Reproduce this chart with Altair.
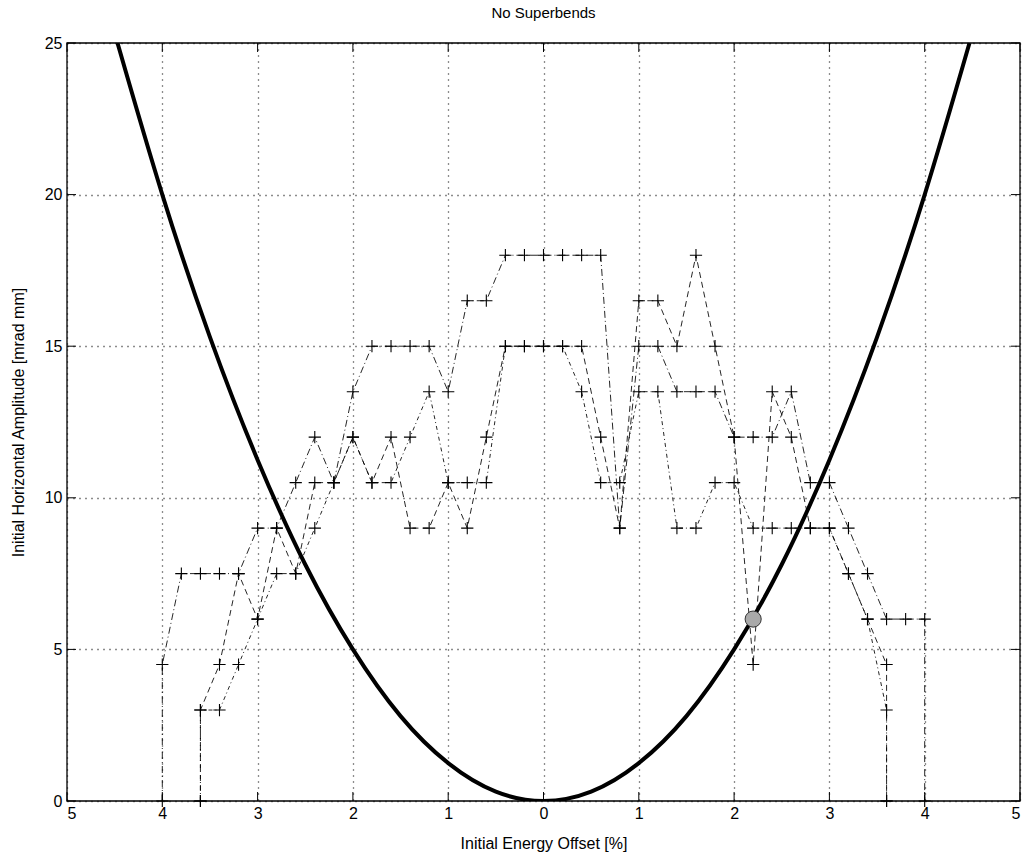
import altair as alt
import pandas as pd

# ---- data ----
A_x = [-4.0, -4.0, -3.8, -3.6, -3.4, -3.2, -3.0, -2.8, -2.6, -2.4, -2.2, -2.0,
       -1.8, -1.6, -1.4, -1.2, -1.0, -0.8, -0.6, -0.4, -0.2, 0.0,
       0.2, 0.4, 0.6, 0.8, 1.0, 1.2, 1.4, 1.6, 1.8, 2.0,
       2.2, 2.4, 2.6, 2.8, 3.0, 3.2, 3.4, 3.6, 3.8, 4.0, 4.0]
A_y = [0, 4.5, 7.5, 7.5, 7.5, 7.5, 9, 9, 10.5, 12, 10.5, 13.5,
       15, 15, 15, 15, 13.5, 16.5, 16.5, 18, 18, 18,
       18, 18, 18, 9, 15, 15, 13.5, 13.5, 13.5, 12,
       12, 12, 13.5, 10.5, 10.5, 9, 7.5, 6, 6, 6, 0]

B_x = [-3.6, -3.6, -3.4, -3.2, -3.0, -2.8, -2.6, -2.4, -2.2, -2.0,
       -1.8, -1.6, -1.4, -1.2, -1.0, -0.8, -0.6, -0.4, -0.2, 0.0,
       0.2, 0.4, 0.6, 0.8, 1.0, 1.2, 1.4, 1.6, 1.8, 2.0,
       2.2, 2.4, 2.6, 2.8, 3.0, 3.2, 3.4, 3.6, 3.6]
B_y = [0, 3, 4.5, 7.5, 6, 9, 7.5, 10.5, 10.5, 12,
       10.5, 12, 9, 9, 10.5, 9, 12, 15, 15, 15,
       15, 15, 12, 9, 16.5, 16.5, 15, 18, 15, 12,
       4.5, 13.5, 12, 9, 9, 7.5, 6, 4.5, 0]

C_x = [-3.6, -3.6, -3.4, -3.2, -3.0, -2.8, -2.6, -2.4, -2.2, -2.0,
       -1.8, -1.6, -1.4, -1.2, -1.0, -0.8, -0.6, -0.4, -0.2, 0.0,
       0.2, 0.4, 0.6, 0.8, 1.0, 1.2, 1.4, 1.6, 1.8, 2.0,
       2.2, 2.4, 2.6, 2.8, 3.0, 3.2, 3.4, 3.6, 3.6]
C_y = [0, 3, 3, 4.5, 6, 7.5, 7.5, 9, 10.5, 12,
       10.5, 10.5, 12, 13.5, 10.5, 10.5, 10.5, 15, 15, 15,
       15, 13.5, 10.5, 10.5, 13.5, 13.5, 9, 9, 10.5, 10.5,
       9, 9, 9, 9, 9, 7.5, 6, 3, 0]

# acceptance curve, points
curve_x = [-4.47, -4.0, -3.5, -3.0, -2.5, -2.0, -1.5, -1.0, -0.5, 0.0,
           0.5, 1.0, 1.5, 2.0, 2.5, 3.0, 3.5, 4.0, 4.47]
curve_y = [25.0, 20.0, 15.3, 11.25, 7.8, 5.0, 2.8, 1.25, 0.31, 0.0,
           0.31, 1.25, 2.8, 5.0, 7.8, 11.25, 15.3, 20.0, 25.0]

dot_x = [2.2]
dot_y = [6.0]

x_ticks = [-5, -4, -3, -2, -1, 0, 1, 2, 3, 4, 5]
y_ticks = [0, 5, 10, 15, 20, 25]

# ---- tables ----
rows = []
for name, xs, ys in (("A", A_x, A_y), ("B", B_x, B_y), ("C", C_x, C_y)):
    for i, (xv, yv) in enumerate(zip(xs, ys)):
        rows.append({"s": name, "i": i, "x": xv, "y": yv})
df = pd.DataFrame(rows)
curve = pd.DataFrame({"x": curve_x, "y": curve_y})
dot = pd.DataFrame({"x": dot_x, "y": dot_y})
xt = pd.DataFrame({"x": x_ticks})
yt = pd.DataFrame({"y": y_ticks})

W, H = 953, 758
FONT = "Liberation Sans"

xscale = alt.Scale(domain=[-5, 5], nice=False, zero=False)
yscale = alt.Scale(domain=[0, 25], nice=False, zero=False)

AX = dict(labelFont=FONT, titleFont=FONT, labelFontSize=16, titleFontSize=16,
          labelColor="black", titleColor="black", titleFontWeight="normal",
          gridColor="black", gridDash=[1, 5], gridOpacity=0.9, gridWidth=1.3,
          grid=True, tickSize=0, domain=False)

X = alt.X("x:Q", scale=xscale,
          axis=alt.Axis(values=x_ticks, labelExpr="format(abs(datum.value), 'd')",
                        title="Initial Energy Offset [%]", labelPadding=4,
                        titlePadding=14, **AX))
Y = alt.Y("y:Q", scale=yscale,
          axis=alt.Axis(values=y_ticks, title="Initial Horizontal Amplitude [mrad mm]",
                        labelPadding=5, titlePadding=18, **AX))

lines = alt.Chart(df).mark_line(strokeWidth=1, color="black", opacity=0.85).encode(
    x=X, y=Y, detail="s:N", order="i:Q",
    strokeDash=alt.StrokeDash("s:N", legend=None,
                              scale=alt.Scale(domain=["A", "B", "C"],
                                              range=[[7, 3, 1, 3], [6, 4], [4, 3, 1, 3]])),
)

pts = alt.Chart(df).mark_point(shape="M-1,0L1,0M0,-1L0,1", size=150, filled=False,
                               color="black", strokeWidth=1.1, opacity=1).encode(x=X, y=Y)

para = alt.Chart(curve).mark_line(color="black", strokeWidth=4, interpolate="natural",
                                  clip=True).encode(x=X, y=Y)

circ = alt.Chart(dot).mark_point(shape="circle", size=260, filled=True, fill="#a9a9a9",
                                 stroke="#333333", strokeWidth=1, opacity=1).encode(x=X, y=Y)

tick_b = alt.Chart(xt).mark_rule(color="black", strokeWidth=1).encode(
    x=X, y=alt.value(H), y2=alt.value(H - 9))
tick_t = alt.Chart(xt).mark_rule(color="black", strokeWidth=1).encode(
    x=X, y=alt.value(0), y2=alt.value(9))
tick_l = alt.Chart(yt).mark_rule(color="black", strokeWidth=1).encode(
    y=Y, x=alt.value(0), x2=alt.value(9))
tick_r = alt.Chart(yt).mark_rule(color="black", strokeWidth=1).encode(
    y=Y, x=alt.value(W), x2=alt.value(W - 9))

frame = alt.Chart(dot).mark_rect(fill=None, fillOpacity=0, stroke="black",
                                 strokeWidth=1.3).encode(
    x=alt.value(0), x2=alt.value(W), y=alt.value(0), y2=alt.value(H))

chart = alt.layer(para, lines, pts, circ, tick_b, tick_t, tick_l, tick_r, frame).properties(
    width=W, height=H,
    background="white",
    title=alt.TitleParams("No Superbends", fontSize=15, fontWeight="normal", font=FONT,
                          anchor="middle", offset=14, color="black"),
    autosize=alt.AutoSizeParams(type="none"),
    padding={"left": 67, "top": 43, "right": 12, "bottom": 59},
).configure_view(stroke=None)

chart.save("out.html", embed_options={"renderer": "svg", "actions": False})
